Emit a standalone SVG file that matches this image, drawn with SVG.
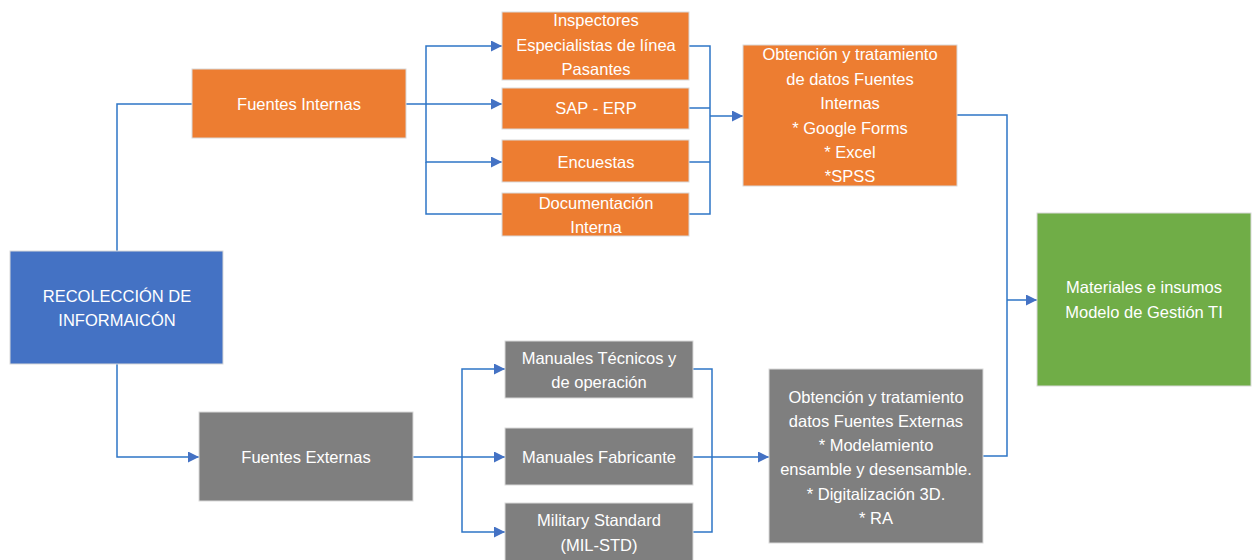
<svg xmlns="http://www.w3.org/2000/svg" width="1254" height="560" viewBox="0 0 1254 560">
<defs>
<style>
.box{stroke:#d9d9d9;stroke-width:1}
.o{fill:#ED7D31}.b{fill:#4472C4}.g{fill:#7F7F7F}.gr{fill:#70AD47}
text{font-family:"Liberation Sans","DejaVu Sans",sans-serif;font-size:16.5px;fill:#ffffff;text-anchor:middle;dominant-baseline:central}
.c{fill:none;stroke:#2E75C6;stroke-width:1.5}
</style>
<marker id="ah" viewBox="0 0 10 10" refX="10" refY="5" markerWidth="11" markerHeight="11" markerUnits="userSpaceOnUse" orient="auto">
<path d="M0,0 L10,5 L0,10 z" fill="#4472C4"/>
</marker>
</defs>
<rect width="1254" height="560" fill="#ffffff"/>
<g id="connectors">
<path class="c" d="M117,251 V104 H192"/>
<path class="c" d="M117,364 V457 H199" marker-end="url(#ah)"/>
<path class="c" d="M406,104 H502" marker-end="url(#ah)"/>
<path class="c" d="M426,104 V46 H502" marker-end="url(#ah)"/>
<path class="c" d="M426,104 V162 H502" marker-end="url(#ah)"/>
<path class="c" d="M426,162 V214 H502"/>
<path class="c" d="M689,46 H710 V214 H689"/>
<path class="c" d="M689,108 H710"/>
<path class="c" d="M689,162 H710"/>
<path class="c" d="M710,116 H743" stroke-width="2" marker-end="url(#ah)"/>
<path class="c" d="M957,115 H1007 V456 H983"/>
<path class="c" d="M1007,300 H1037" marker-end="url(#ah)"/>
<path class="c" d="M413,457 H505" marker-end="url(#ah)"/>
<path class="c" d="M462,457 V369 H505" marker-end="url(#ah)"/>
<path class="c" d="M462,457 V532 H505" marker-end="url(#ah)"/>
<path class="c" d="M693,369 H712 V532 H693"/>
<path class="c" d="M693,457 H769" marker-end="url(#ah)"/>
</g>
<g id="recoleccion">
<rect class="box b" x="10" y="251" width="213" height="113"/>
<text x="117" y="296">RECOLECCIÓN DE</text>
<text x="117" y="320">INFORMAICÓN</text>
</g>
<g id="fuentes-internas">
<rect class="box o" x="192" y="69" width="214" height="69"/>
<text x="299" y="104">Fuentes Internas</text>
</g>
<g id="fuentes-externas">
<rect class="box g" x="199" y="412" width="214" height="89"/>
<text x="306" y="457">Fuentes Externas</text>
</g>
<g id="inspectores">
<rect class="box o" x="502" y="12" width="187" height="68"/>
<text x="596" y="20">Inspectores</text>
<text x="596" y="45">Especialistas de línea</text>
<text x="596" y="69">Pasantes</text>
</g>
<g id="sap">
<rect class="box o" x="502" y="88" width="187" height="41"/>
<text x="596" y="108">SAP - ERP</text>
</g>
<g id="encuestas">
<rect class="box o" x="502" y="140" width="187" height="42"/>
<text x="596" y="162">Encuestas</text>
</g>
<g id="documentacion">
<rect class="box o" x="502" y="193" width="187" height="43"/>
<text x="596" y="203">Documentación</text>
<text x="596" y="227">Interna</text>
</g>
<g id="obtencion-internas">
<rect class="box o" x="743" y="45" width="214" height="141"/>
<text x="850" y="54">Obtención y tratamiento</text>
<text x="850" y="79">de datos Fuentes</text>
<text x="850" y="103">Internas</text>
<text x="850" y="128">* Google Forms</text>
<text x="850" y="152">* Excel</text>
<text x="850" y="176">*SPSS</text>
</g>
<g id="materiales">
<rect class="box gr" x="1037" y="213" width="214" height="173"/>
<text x="1144" y="287">Materiales e insumos</text>
<text x="1144" y="312">Modelo de Gestión TI</text>
</g>
<g id="manuales-tecnicos">
<rect class="box g" x="505" y="341" width="188" height="57"/>
<text x="599" y="358">Manuales Técnicos y</text>
<text x="599" y="382">de operación</text>
</g>
<g id="manuales-fabricante">
<rect class="box g" x="505" y="428" width="188" height="57"/>
<text x="599" y="457">Manuales Fabricante</text>
</g>
<g id="military">
<rect class="box g" x="505" y="503" width="188" height="62"/>
<text x="599" y="520">Military Standard</text>
<text x="599" y="545">(MIL-STD)</text>
</g>
<g id="obtencion-externas">
<rect class="box g" x="769" y="369" width="214" height="174"/>
<text x="876" y="397">Obtención y tratamiento</text>
<text x="876" y="421">datos  Fuentes Externas</text>
<text x="876" y="445">* Modelamiento</text>
<text x="876" y="469">ensamble y desensamble.</text>
<text x="876" y="494">* Digitalización 3D.</text>
<text x="876" y="518">* RA</text>
</g>
</svg>
